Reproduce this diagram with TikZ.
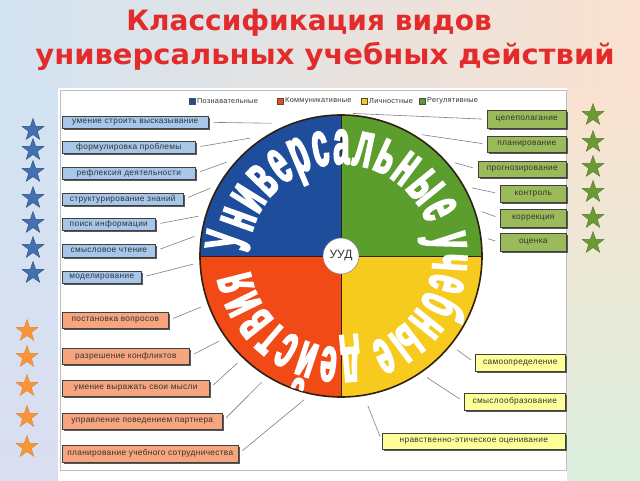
\documentclass[tikz,border=0pt]{standalone}
\usepackage{fontspec}
\setmainfont{Liberation Sans}
\newfontfamily\titlefont{DejaVu Sans}
\newfontfamily\wheelfont[FakeStretch=0.45,FakeBold=2.5]{Liberation Sans}
\newfontfamily\boxfont[LetterSpace=4]{Liberation Sans}
\usetikzlibrary{shapes.geometric,decorations.text,shadows,shadings}
\definecolor{blueQ}{HTML}{1E4D9B}
\definecolor{greenQ}{HTML}{5B9E2D}
\definecolor{orangeQ}{HTML}{F24A17}
\definecolor{yellowQ}{HTML}{F6CB1D}
\definecolor{boxblue}{HTML}{A7C7EA}
\definecolor{boxorange}{HTML}{F6A57E}
\definecolor{boxgreen}{HTML}{9BBB5A}
\definecolor{boxyellow}{HTML}{FFFF9A}
\definecolor{starblue}{HTML}{4270B0}
\definecolor{starorange}{HTML}{F79538}
\definecolor{stargreen}{HTML}{6B9A34}
\definecolor{titlered}{HTML}{E32B2B}
\definecolor{bgL}{HTML}{D2E3F1}
\definecolor{bgM}{HTML}{F0D3DF}
\definecolor{bgR}{HTML}{FAE2D0}
\definecolor{bgLB}{HTML}{D9DEF0}
\definecolor{bgRB}{HTML}{DCEFDF}
\tikzset{
  titletext/.style={font=\titlefont\bfseries\fontsize{28}{28}\selectfont, text=titlered, inner sep=0},
  ubox/.style={draw=black!75, line width=0.6pt, anchor=north west, inner sep=0pt,
     font=\boxfont\fontsize{8.3}{9}\selectfont, text=black!80,
     drop shadow={shadow xshift=1.2pt, shadow yshift=-1.2pt, fill=black!65, opacity=1}},
  bluebox/.style={ubox, fill=boxblue},
  orangebox/.style={ubox, fill=boxorange},
  greenbox/.style={ubox, fill=boxgreen},
  yellowbox/.style={ubox, fill=boxyellow},
  conn/.style={draw=black!50, line width=0.6pt, shorten <=5pt, shorten >=2pt},
  starshape/.style={star, star points=5, star point ratio=2.5, minimum size=23pt, inner sep=0pt, line width=0.4pt},
  legsq/.style={draw=black!70, line width=0.4pt, minimum size=6pt, inner sep=0pt},
  legtext/.style={anchor=west, inner sep=0pt, font=\boxfont\fontsize{7.3}{8}\selectfont, text=black!80},
  wheelline/.style={draw=black!75!brown, line width=0.8pt}
}
\begin{document}
\begin{tikzpicture}[x=1pt,y=-1pt]
\useasboundingbox (0,0) rectangle (640,480);
% background
\shade[left color=bgL, middle color=bgM, right color=bgR] (0,0) rectangle (640,88);
\shade[top color=bgL, bottom color=bgLB] (0,88) rectangle (58,480);
\shade[top color=bgR, bottom color=bgRB] (567,88) rectangle (640,480);
\fill[white] (58,88) rectangle (567,480);
\draw[black!25, line width=0.5pt] (60,90) rectangle (566,470);
% title
\node[titletext] (t1) at (309,23) {Классификация видов};
\node[titletext, xscale=1.035] (t2) at (325,56) {универсальных учебных действий};
% legend
\node[legsq, fill=blueQ] (l1) at (192,101) {};
\node[legtext] (l1t) at (197,101) {Познавательные};
\node[legsq, fill=orangeQ] (l2) at (280,101) {};
\node[legtext] (l2t) at (285,101) {Коммуникативные};
\node[legsq, fill=yellowQ] (l3) at (364,101) {};
\node[legtext] (l3t) at (369,101) {Личностные};
\node[legsq, fill=greenQ] (l4) at (422,101) {};
\node[legtext] (l4t) at (427,101) {Регулятивные};
% wheel
\begin{scope}[shift={(341,256)}, x=1pt, y=1pt]
  \fill[blueQ] (0,0) -- (90:141) arc[start angle=90, end angle=180, radius=141] -- cycle;
  \fill[greenQ] (0,0) -- (0:141) arc[start angle=0, end angle=90, radius=141] -- cycle;
  \fill[orangeQ] (0,0) -- (180:141) arc[start angle=180, end angle=270, radius=141] -- cycle;
  \fill[yellowQ] (0,0) -- (270:141) arc[start angle=270, end angle=360, radius=141] -- cycle;
  \draw[wheelline] (-141,0) -- (141,0);
  \draw[wheelline] (0,-141) -- (0,141);
  \draw[wheelline, line width=1.6pt] (0,0) circle[radius=141];
  \path[decorate, decoration={text along path, text align=fit to path,
     text={|\wheelfont\bfseries\fontsize{64}{64}\selectfont\color{white}|Универсальные учебные действия}}]
     (178:92) arc[start angle=178, end angle=-171, radius=92];
  \node[circle, fill=white, draw=black!50, line width=0.5pt, minimum size=36pt, inner sep=0pt,
        font=\fontsize{12}{12}\selectfont, text=black!80] (uud) at (0,0) {УУД};
  % connector end points on the rim
  \coordinate (cb1) at (117:149);
  \coordinate (cb2) at (127:148);
  \coordinate (cb3) at (140:147);
  \coordinate (cb4) at (152:146);
  \coordinate (cb5) at (164:146);
  \coordinate (cb6) at (172:146);
  \coordinate (cb7) at (183:146);
  \coordinate (co1) at (200:147);
  \coordinate (co2) at (215:147);
  \coordinate (co3) at (226:147);
  \coordinate (co4) at (238:147);
  \coordinate (co5) at (256:147);
  \coordinate (cg1) at (86:143);
  \coordinate (cg2) at (57:145);
  \coordinate (cg3) at (40:146);
  \coordinate (cg4) at (28:146);
  \coordinate (cg5) at (18:146);
  \coordinate (cg6) at (7:146);
  \coordinate (cy1) at (-39:147);
  \coordinate (cy2) at (-55:147);
  \coordinate (cy3) at (-80:150);
\end{scope}
% blue boxes
\node[bluebox, minimum width=146pt, minimum height=12pt] (b1) at (62,116) {умение строить высказывание};
\node[bluebox, minimum width=133pt, minimum height=12pt] (b2) at (62,141) {формулировка проблемы};
\node[bluebox, minimum width=133pt, minimum height=12pt] (b3) at (62,167) {рефлексия деятельности};
\node[bluebox, minimum width=121pt, minimum height=12pt] (b4) at (62,193) {структурирование знаний};
\node[bluebox, minimum width=93pt, minimum height=12pt] (b5) at (62,218) {поиск информации};
\node[bluebox, minimum width=93pt, minimum height=13pt] (b6) at (62,244) {смысловое чтение};
\node[bluebox, minimum width=79pt, minimum height=12pt] (b7) at (62,271) {моделирование};
% orange boxes
\node[orangebox, minimum width=106pt, minimum height=16pt] (o1) at (62,312) {постановка вопросов};
\node[orangebox, minimum width=127pt, minimum height=16pt] (o2) at (62,348) {разрешение конфликтов};
\node[orangebox, minimum width=147pt, minimum height=16pt] (o3) at (62,380) {умение выражать свои мысли};
\node[orangebox, minimum width=160pt, minimum height=16pt] (o4) at (62,413) {управление поведением партнера};
\node[orangebox, minimum width=176pt, minimum height=17pt] (o5) at (62,445) {планирование учебного сотрудничества};
% green boxes
\node[greenbox, minimum width=79pt, minimum height=18pt] (g1) at (487,110) {целеполагание};
\node[greenbox, minimum width=79pt, minimum height=16pt] (g2) at (487,136) {планирование};
\node[greenbox, minimum width=88pt, minimum height=16pt] (g3) at (478,161) {прогнозирование};
\node[greenbox, minimum width=66pt, minimum height=17pt] (g4) at (500,185) {контроль};
\node[greenbox, minimum width=66pt, minimum height=18pt] (g5) at (500,209) {коррекция};
\node[greenbox, minimum width=66pt, minimum height=18pt] (g6) at (500,233) {оценка};
% yellow boxes
\node[yellowbox, minimum width=90pt, minimum height=17pt] (y1) at (475,354) {самоопределение};
\node[yellowbox, minimum width=101pt, minimum height=17pt] (y2) at (464,393) {смыслообразование};
\node[yellowbox, minimum width=183pt, minimum height=16pt] (y3) at (382,433) {нравственно-этическое оценивание};
% connectors
\foreach \i in {1,...,7} {\draw[conn] (b\i.east) -- (cb\i);}
\foreach \i in {1,...,5} {\draw[conn] (o\i.east) -- (co\i);}
\foreach \i in {1,...,6} {\draw[conn] (g\i.west) -- (cg\i);}
\foreach \i in {1,...,3} {\draw[conn] (y\i.west) -- (cy\i);}
% stars
\foreach \y [count=\k] in {130,150,172,198,223,248,273}
  {\node[starshape, fill=starblue, draw=starblue!70!black] (sb\k) at (33,\y) {};}
\foreach \y [count=\k] in {331,357,386,417,447}
  {\node[starshape, fill=starorange, draw=starorange!90!black] (so\k) at (27,\y) {};}
\foreach \y [count=\k] in {115,142,167,192,218,243}
  {\node[starshape, fill=stargreen, draw=stargreen!80!black] (sg\k) at (593,\y) {};}
\end{tikzpicture}
\end{document}
